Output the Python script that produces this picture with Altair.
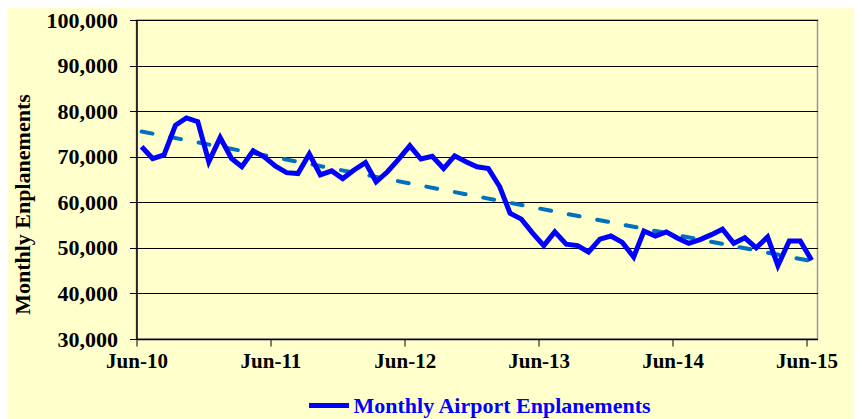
import altair as alt
import pandas as pd

# Monthly enplanements, Jun-10 .. Jun-15
values = [
    72200, 69600, 70400, 76900, 78500, 77700, 68900, 74200, 69600, 67800,
    71300, 70000, 67900, 66500, 66300, 70600, 66000, 66900, 65200, 67100,
    68700, 64500, 66700, 69400, 72400, 69500, 70100, 67400, 70200, 68900,
    67800, 67400, 63400, 57600, 56300, 53300, 50500, 53500, 50800, 50500,
    49100, 51900, 52600, 51200, 48000, 53700, 52600, 53500, 52100, 51000,
    51800, 52900, 54100, 51000, 52200, 50000, 52400, 46100, 51500, 51500,
    47300,
]
dates = (pd.date_range("2010-06-01", periods=len(values), freq="MS")
         + pd.Timedelta(days=14)).strftime("%Y-%m-%d").tolist()
series_name = "Monthly Airport Enplanements"
tick_years = [2010, 2011, 2012, 2013, 2014, 2015]
y_ticks = [30000, 40000, 50000, 60000, 70000, 80000, 90000, 100000]

df = pd.DataFrame({"date": dates, "value": values, "series": [series_name] * len(values)})

FONT = "Liberation Serif"

x_enc = alt.X(
    "date:T",
    title=None,
    scale=alt.Scale(
        type="utc",
        domain=[alt.DateTime(year=2010, month=6, date=1, utc=True),
                alt.DateTime(year=2015, month=7, date=1, utc=True)],
    ),
    axis=alt.Axis(
        values=[alt.DateTime(year=y, month=6, date=1, utc=True) for y in tick_years],
        format="%b-%y",
        grid=False,
        labelFont=FONT, labelFontSize=21, labelFontWeight="bold", labelColor="black",
        labelPadding=4, tickSize=7, tickColor="black", domainColor="black",
        domainWidth=1.5, labelFlush=False,
    ),
)
y_enc = alt.Y(
    "value:Q",
    scale=alt.Scale(domain=[30000, 100000], nice=False, zero=False),
    axis=alt.Axis(
        values=y_ticks, format=",d",
        title="Monthly  Enplanements",
        titleFont=FONT, titleFontSize=22, titleFontWeight="bold", titleColor="black",
        titleAngle=270, titleX=-114, titleY=184, titleAlign="center", titleBaseline="middle",
        labelFont=FONT, labelFontSize=22, labelFontWeight="bold", labelColor="black",
        labelPadding=12, tickSize=7, tickColor="black", domainColor="black", domainWidth=1.5,
        gridColor="black", gridWidth=1, gridOpacity=1,
    ),
)

line = alt.Chart(df).mark_line(strokeWidth=5, strokeJoin="miter").encode(
    x=x_enc,
    y=y_enc,
    color=alt.Color(
        "series:N",
        scale=alt.Scale(range=["#0000FF"]),
        legend=alt.Legend(
            title=None, orient="none", legendX=170, legendY=363,
            symbolType="stroke", symbolSize=1600, symbolStrokeWidth=5,
            labelFont=FONT, labelFontSize=22, labelFontWeight="bold", labelColor="#0000FF",
            labelOffset=2, padding=0, labelLimit=400,
        ),
    ),
)

trend = alt.Chart(df).transform_regression("date", "value").mark_line(
    strokeWidth=4, color="#0070C0", strokeDash=[11, 18], strokeCap="round"
).encode(x="date:T", y="value:Q")

chart = alt.layer(trend, line).properties(
    width=681, height=319,
    autosize="none",
    padding={"left": 128.5, "top": 12, "right": 36.5, "bottom": 80},
).configure(background="#FFFFCC").configure_view(stroke="#999999", strokeWidth=1.5)

chart.save("out.html", embed_options={"renderer": "svg", "actions": False})
